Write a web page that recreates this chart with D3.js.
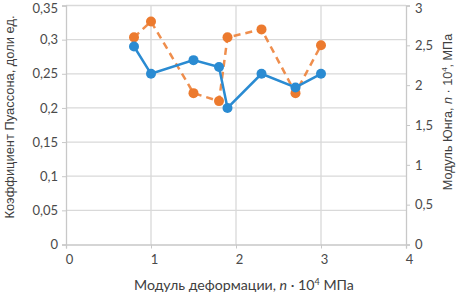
<!DOCTYPE html>
<html><head><meta charset="utf-8">
<script src="https://cdn.jsdelivr.net/npm/d3@7"></script>
<style>body{margin:0;background:#fff}svg{display:block}</style>
</head><body>
<svg id="c" width="459" height="296"></svg>
<script>
const xValues = [0.8, 1.0, 1.5, 1.8, 1.9, 2.3, 2.7, 3.0];
const poisson = [0.29, 0.25, 0.27, 0.26, 0.20, 0.25, 0.23, 0.25];
const young = [2.6, 2.8, 1.9, 1.8, 2.6, 2.7, 1.9, 2.5];
const xTicks = [0, 1, 2, 3, 4];
const leftTicks = [0, 0.05, 0.1, 0.15, 0.2, 0.25, 0.3, 0.35];
const rightTicks = [0, 0.5, 1, 1.5, 2, 2.5, 3];

const svg = d3.select("#c");
const L = 66, R = 406, T = 5.5, B = 244.5;
const x = d3.scaleLinear().domain([0, 4]).range([L, R]);
const yL = d3.scaleLinear().domain([0, 0.35]).range([B, T]);
const yR = d3.scaleLinear().domain([0, 3]).range([B, T]);
const fmt = d => String(d).replace(".", ",");
const tickFont = "Lato, 'Open Sans', sans-serif";
const grid = "#d9d9d9";

// grid
svg.append("g").selectAll("line").data(leftTicks.slice(1)).join("line")
  .attr("x1", L).attr("x2", R).attr("y1", d => yL(d)).attr("y2", d => yL(d))
  .attr("stroke", grid).attr("stroke-width", 1.3);
svg.append("g").selectAll("line").data(xTicks.slice(1, 4)).join("line")
  .attr("x1", d => x(d)).attr("x2", d => x(d)).attr("y1", T).attr("y2", B)
  .attr("stroke", grid).attr("stroke-width", 1.3);

// axes
const axL = svg.append("g").attr("transform", `translate(${L},0)`)
  .call(d3.axisLeft(yL).tickValues(leftTicks).tickFormat(fmt).tickSize(4).tickPadding(4));
const axR = svg.append("g").attr("transform", `translate(${R},0)`)
  .call(d3.axisRight(yR).tickValues(rightTicks).tickFormat(fmt).tickSize(4).tickPadding(5));
const axB = svg.append("g").attr("transform", `translate(0,${B})`)
  .call(d3.axisBottom(x).tickValues(xTicks).tickFormat(fmt).tickSize(4).tickPadding(6));
[axL, axR, axB].forEach(a => {
  a.select(".domain").attr("stroke", "#c8c8c8").attr("stroke-width", 1.3);
  a.selectAll(".tick line").attr("stroke", "#c8c8c8");
  a.selectAll("text").attr("fill", "#4a4a4a").style("font-family", tickFont).style("font-size", "13px");
});
axB.selectAll(".tick text").attr("dx", 3);
axL.selectAll(".tick text").filter(d => d === 0.35).attr("dy", "0.5em");
axR.selectAll(".tick text").filter(d => d === 3).attr("dy", "0.5em");

// series
const blue = "#2a8bd2", orange = "#ec7a2e";
const lineL = d3.line().x((d, i) => x(xValues[i])).y(d => yL(d));
const lineR = d3.line().x((d, i) => x(xValues[i])).y(d => yR(d));
svg.append("path").datum(young).attr("d", lineR).attr("fill", "none")
  .attr("stroke", orange).attr("stroke-width", 2.5).attr("stroke-dasharray", "7,5").attr("opacity", 0.85);
svg.append("path").datum(poisson).attr("d", lineL).attr("fill", "none")
  .attr("stroke", blue).attr("stroke-width", 2.5);
svg.append("g").selectAll("circle").data(young).join("circle")
  .attr("cx", (d, i) => x(xValues[i])).attr("cy", d => yR(d)).attr("r", 5).attr("fill", orange);
svg.append("g").selectAll("circle").data(poisson).join("circle")
  .attr("cx", (d, i) => x(xValues[i])).attr("cy", d => yL(d)).attr("r", 5).attr("fill", blue);

// titles
svg.append("text").attr("transform", "translate(14,117) rotate(-90)")
  .attr("text-anchor", "middle").attr("fill", "#404040")
  .style("font-family", "'Liberation Sans', Arial, sans-serif").style("font-size", "12.9px")
  .text("Коэффициент Пуассона, доли ед.");
const rt = svg.append("text").attr("transform", "translate(452,112) rotate(-90)")
  .attr("text-anchor", "middle").attr("fill", "#404040")
  .style("font-family", "'Liberation Sans', Arial, sans-serif").style("font-size", "12.6px");
rt.append("tspan").text("Модуль Юнга, ");
rt.append("tspan").style("font-style", "italic").text("n");
rt.append("tspan").text(" · 10");
rt.append("tspan").attr("dy", -5).style("font-size", "8px").text("4");
rt.append("tspan").attr("dy", 5).text(", МПа");
const xt = svg.append("text").attr("x", 244).attr("y", 290)
  .attr("text-anchor", "middle").attr("fill", "#404040")
  .style("font-family", tickFont).style("font-size", "14.2px");
xt.append("tspan").text("Модуль деформации, ");
xt.append("tspan").style("font-style", "italic").text("n");
xt.append("tspan").text(" · 10");
xt.append("tspan").attr("dy", -5).style("font-size", "9px").text("4");
xt.append("tspan").attr("dy", 5).text(" МПа");
</script>
</body></html>
